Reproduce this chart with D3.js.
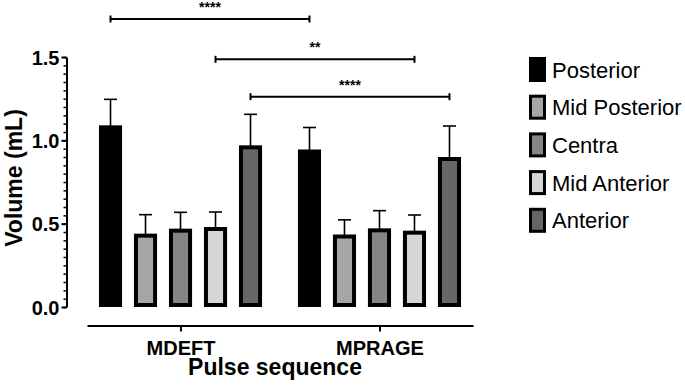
<!DOCTYPE html>
<html>
<head>
<meta charset="utf-8">
<script src="https://cdn.jsdelivr.net/npm/d3@7"></script>
<style>
  body { margin: 0; background: #fff; }
  svg { display: block; font-family: "Liberation Sans", Arial, sans-serif; }
</style>
</head>
<body>
<div id="chart"></div>
<script>
var groups = ["MDEFT", "MPRAGE"];
var regions = ["Posterior", "Mid Posterior", "Centra", "Mid Anterior", "Anterior"];
var regionColors = ["#000000", "#a6a6a6", "#858585", "#d6d6d6", "#666666"];

// mean volume (mL) per region, one array per pulse sequence
var meanMDEFT = [1.09, 0.44, 0.47, 0.48, 0.97];
var meanMPRAGE = [0.945, 0.435, 0.472, 0.458, 0.90];
// upper error (SD) per region
var errMDEFT = [0.156, 0.114, 0.098, 0.09, 0.186];
var errMPRAGE = [0.132, 0.088, 0.106, 0.094, 0.186];

var yTicks = [0, 0.5, 1.0, 1.5];

// significance brackets: [group, region] to [group, region], level, stars
var sigFrom = [["MDEFT", "Posterior"], ["MDEFT", "Mid Anterior"], ["MDEFT", "Anterior"]];
var sigTo = [["MPRAGE", "Posterior"], ["MPRAGE", "Mid Anterior"], ["MPRAGE", "Anterior"]];
var sigLevel = [1.728, 1.486, 1.262];
var sigLabel = ["****", "**", "****"];

var width = 685, height = 388;

var svg = d3.select("#chart")
    .append("svg")
    .attr("width", width)
    .attr("height", height)

var y = d3.scaleLinear().domain([0, 1.5]).range([307, 57]);

var x0 = d3.scalePoint().domain(groups).range([87, 473]).padding(0.47);
var x1 = d3.scaleBand().domain(regions).range([-87.5, 87.5])
    .paddingInner(0.34)
    .paddingOuter(0.17);

var color = d3.scaleOrdinal().domain(regions).range(regionColors);

var bars = [];
groups.forEach(function(g, gi){
    var means = gi == 0 ? meanMDEFT : meanMPRAGE;
    var errs = gi == 0 ? errMDEFT : errMPRAGE;
    regions.forEach(function(r, ri){
        bars.push({group: g, region: r, value: means[ri], err: errs[ri]});
    });
});

function barX(g, r){ return x0(g) + x1(r); }
function barCenter(g, r){ return barX(g, r) + x1.bandwidth() / 2; }

// error bars (drawn first so the bars sit on top)
var eb = svg.append("g");
eb.selectAll("line.stem")
    .data(bars)
    .enter()
    .append("line")
      .attr("x1", function(d){ return barCenter(d.group, d.region); })
      .attr("x2", function(d){ return barCenter(d.group, d.region); })
      .attr("y1", function(d){ return y(d.value) + 2; })
      .attr("y2", function(d){ return y(d.value + d.err); })
      .attr("stroke", "#000")
      .attr("stroke-width", 1.6)
eb.selectAll("line.cap")
    .data(bars)
    .enter()
    .append("line")
      .attr("x1", function(d){ return barCenter(d.group, d.region) - 6.5; })
      .attr("x2", function(d){ return barCenter(d.group, d.region) + 6.5; })
      .attr("y1", function(d){ return y(d.value + d.err); })
      .attr("y2", function(d){ return y(d.value + d.err); })
      .attr("stroke", "#000")
      .attr("stroke-width", 1.6)

// bars, thick black outline kept inside the bar
svg.append("g")
    .selectAll("rect")
    .data(bars)
    .enter()
    .append("rect")
      .attr("x", function(d){ return barX(d.group, d.region) + 2; })
      .attr("y", function(d){ return y(d.value) + 2; })
      .attr("width", x1.bandwidth() - 4)
      .attr("height", function(d){ return y(0) - y(d.value) - 4; })
      .attr("fill", function(d){ return color(d.region); })
      .attr("stroke", "#000")
      .attr("stroke-width", 4)

// y axis with minor ticks
var minorTicks = d3.range(0, 1.5001, 0.05);
svg.append("g")
    .attr("transform", "translate(66.5,0)")
    .call(d3.axisLeft(y).tickValues(minorTicks).tickSize(3).tickFormat(""))
    .call(function(g){ g.select(".domain").remove(); })
    .selectAll("line").attr("stroke-width", 1.5)

var yAxis = svg.append("g")
    .attr("transform", "translate(66.5,0)")
    .call(d3.axisLeft(y).tickValues(yTicks).tickSize(5).tickSizeOuter(0).tickPadding(2).tickFormat(d3.format(".1f")))
yAxis.select(".domain").attr("stroke-width", 2)
yAxis.selectAll("line").attr("stroke-width", 2)
yAxis.selectAll("text")
    .attr("font-size", "20px")
    .attr("font-weight", "bold")
    .attr("font-family", "Liberation Sans, Arial, sans-serif")
    .attr("fill", "#000")
    .attr("dy", "0.36em")

svg.append("text")
    .attr("transform", "translate(22,178) rotate(-90)")
    .attr("text-anchor", "middle")
    .attr("font-size", "23px")
    .attr("font-weight", "bold")
    .text("Volume (mL)")

// x axis: separate baseline below bars
var xAxis = svg.append("g")
    .attr("transform", "translate(0,325.5)")
    .call(d3.axisBottom(x0).tickSize(6).tickSizeOuter(0).tickPadding(9))
xAxis.select(".domain").attr("stroke-width", 2)
xAxis.selectAll("line").attr("stroke-width", 2)
xAxis.selectAll("text")
    .attr("font-size", "20px")
    .attr("font-weight", "bold")
    .attr("font-family", "Liberation Sans, Arial, sans-serif")
    .attr("fill", "#000")

svg.append("text")
    .attr("x", 275)
    .attr("y", 375)
    .attr("text-anchor", "middle")
    .attr("font-size", "23px")
    .attr("font-weight", "bold")
    .text("Pulse sequence")

// significance brackets
var sig = sigLabel.map(function(s, i){
    return {x1: barCenter(sigFrom[i][0], sigFrom[i][1]),
            x2: barCenter(sigTo[i][0], sigTo[i][1]),
            y: y(sigLevel[i]), label: s};
});
var sg = svg.append("g").selectAll("g").data(sig).enter().append("g");
sg.append("line")
    .attr("x1", function(d){ return d.x1; })
    .attr("x2", function(d){ return d.x2; })
    .attr("y1", function(d){ return d.y; })
    .attr("y2", function(d){ return d.y; })
    .attr("stroke", "#000").attr("stroke-width", 2)
sg.append("line")
    .attr("x1", function(d){ return d.x1; })
    .attr("x2", function(d){ return d.x1; })
    .attr("y1", function(d){ return d.y - 3.5; })
    .attr("y2", function(d){ return d.y + 3.5; })
    .attr("stroke", "#000").attr("stroke-width", 2)
sg.append("line")
    .attr("x1", function(d){ return d.x2; })
    .attr("x2", function(d){ return d.x2; })
    .attr("y1", function(d){ return d.y - 3.5; })
    .attr("y2", function(d){ return d.y + 3.5; })
    .attr("stroke", "#000").attr("stroke-width", 2)
sg.append("text")
    .attr("x", function(d){ return (d.x1 + d.x2) / 2; })
    .attr("y", function(d){ return d.y - 7; })
    .attr("text-anchor", "middle")
    .attr("font-size", "14px")
    .attr("font-weight", "bold")
    .text(function(d){ return d.label; })

// legend
var legend = svg.append("g")
    .selectAll("g")
    .data(regions)
    .enter()
    .append("g")
      .attr("transform", function(d, i){ return "translate(529," + (57 + i * 37.7) + ")"; })
legend.append("rect")
    .attr("x", 1.5)
    .attr("y", 1.5)
    .attr("width", 14)
    .attr("height", 22)
    .attr("fill", function(d){ return color(d); })
    .attr("stroke", "#000")
    .attr("stroke-width", 3)
legend.append("text")
    .attr("x", 23)
    .attr("y", 20.5)
    .attr("font-size", "22px")
    .text(function(d){ return d; })
</script>
</body>
</html>
